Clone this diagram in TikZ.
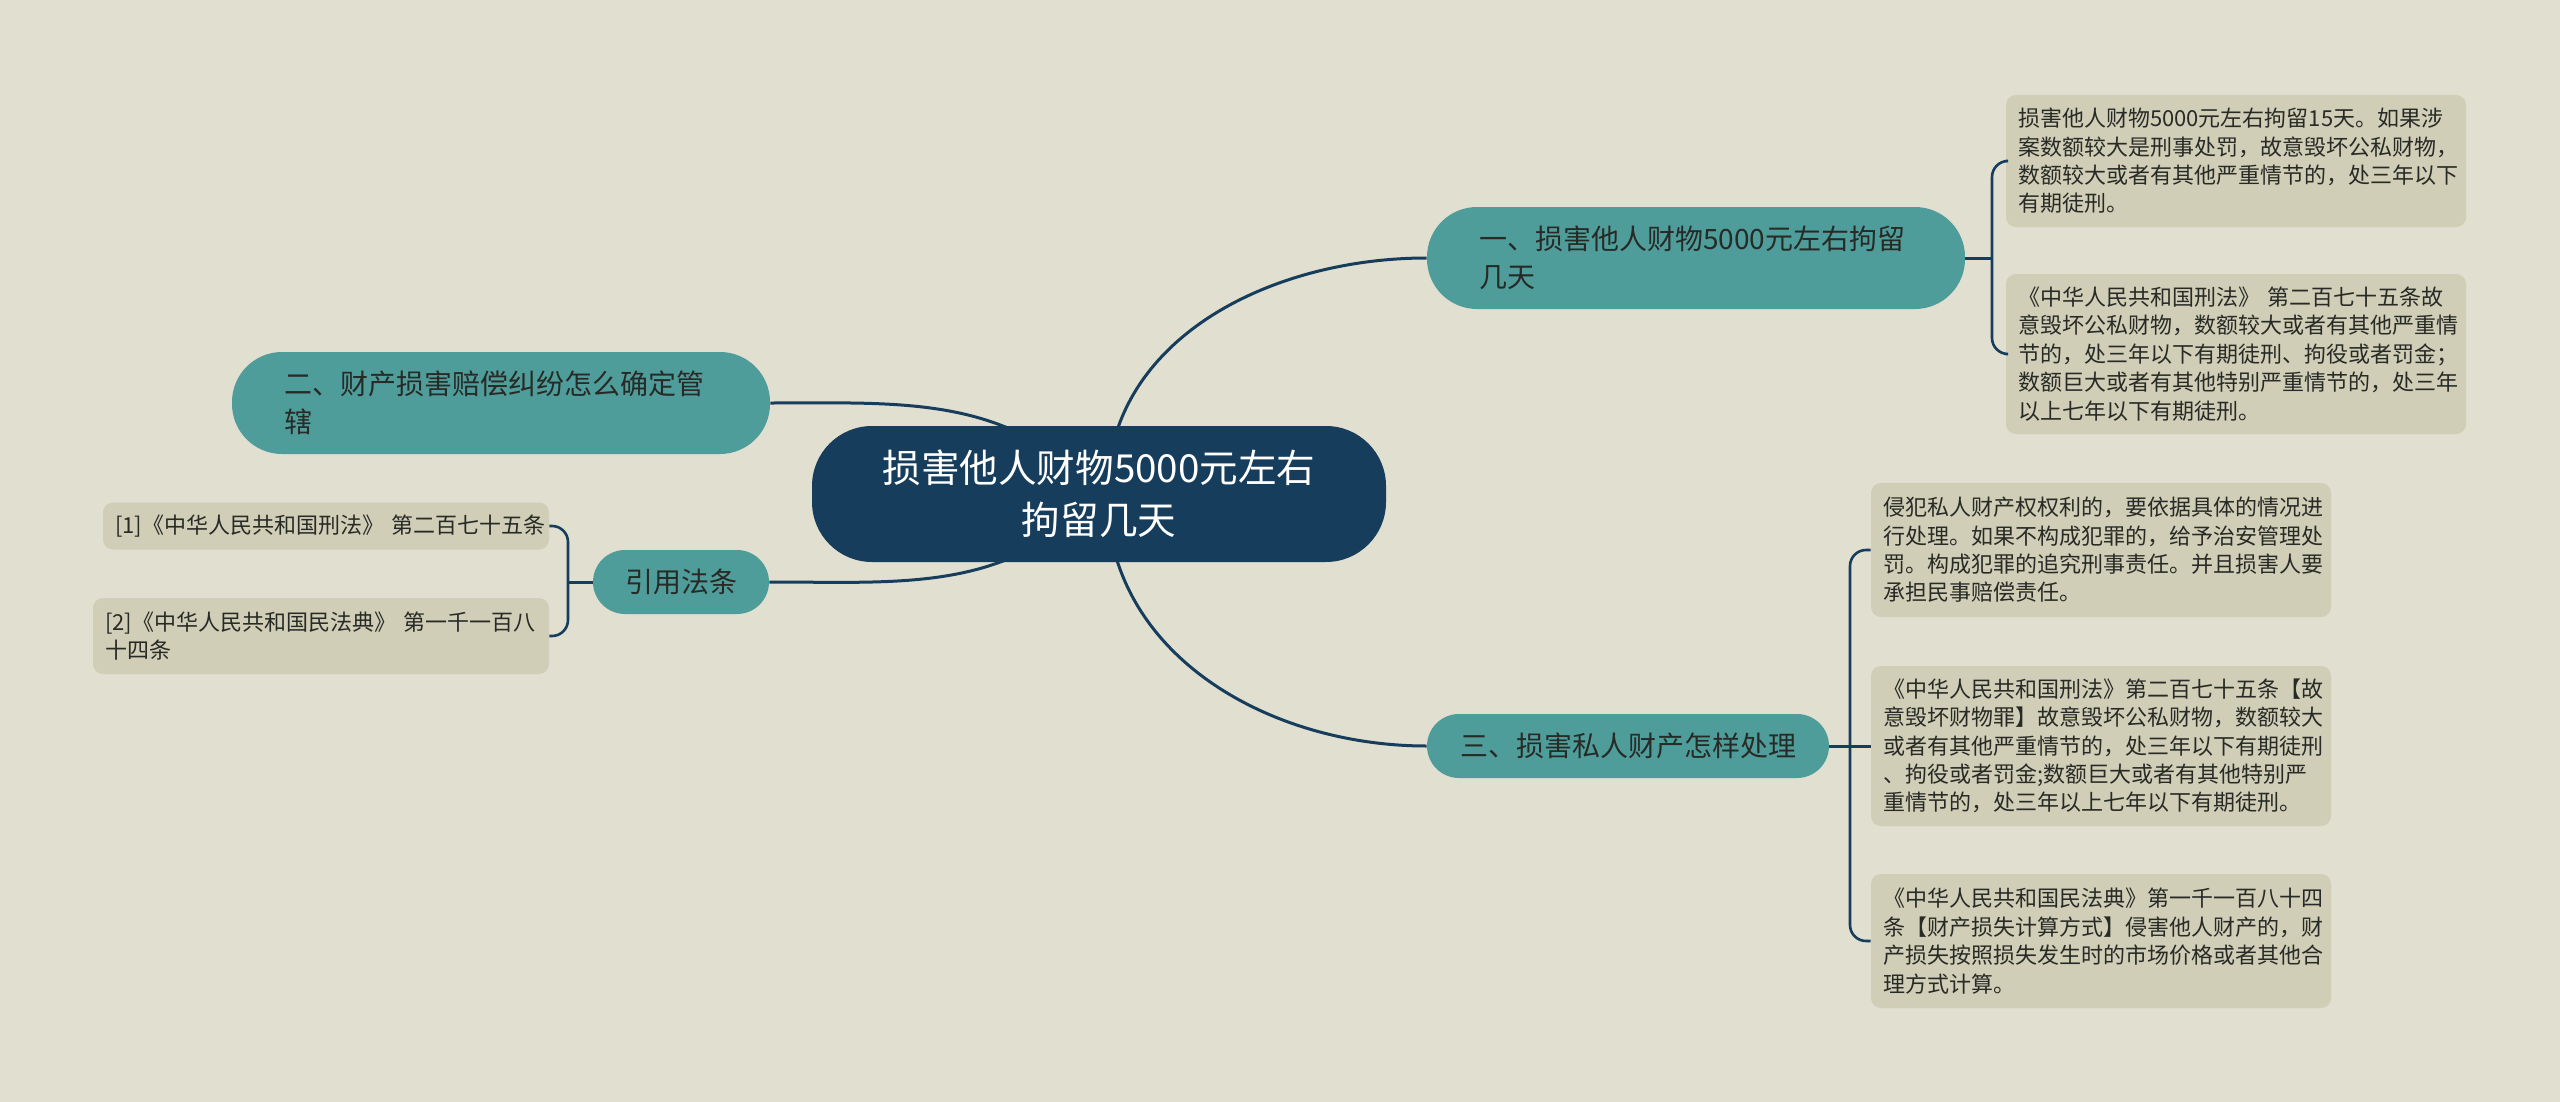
\documentclass[tikz,border=0pt]{standalone}
\usepackage{fontspec}
\setmainfont{Noto Sans CJK SC}
\usepackage{xcolor}
\usetikzlibrary{positioning, backgrounds}
\definecolor{paper}{RGB}{224,223,208}
\definecolor{rootcolor}{RGB}{23,61,92}
\definecolor{topiccolor}{RGB}{79,157,155}
\definecolor{leafcolor}{RGB}{208,206,183}
\definecolor{inkcolor}{RGB}{40,42,38}
\tikzset{mapnode/.style = {inner ysep=0pt, text=inkcolor}}
\tikzset{rootnode/.style = {mapnode, fill=rootcolor, text=white, rounded corners=30pt, minimum width=287pt, minimum height=68pt, align=center, font=\fontsize{19.3}{26}\selectfont}}
\tikzset{topicnode/.style = {mapnode, fill=topiccolor, rounded corners=16pt, minimum height=32pt, align=center, font=\fontsize{14}{18.8}\selectfont}}
\tikzset{widetopic/.style = {topicnode, rounded corners=25pt, minimum height=51pt, text width=217pt, inner xsep=26pt, align=left}}
\tikzset{leafbox/.style = {mapnode, fill=leafcolor, rounded corners=5pt, inner xsep=6pt, text width=218pt, align=left, font=\fontsize{11}{14.2}\selectfont}}
\tikzset{connector/.style = {draw=rootcolor, line width=1.5pt}}
\tikzset{bracketline/.style = {connector, line width=1.3pt, rounded corners=8pt}}

\begin{document}
\begin{tikzpicture}[x=0.5pt, y=-0.5pt]
\useasboundingbox (0,0) rectangle (2560,1102);

\node [rootnode] (root) at (1099,494) {损害他人财物5000元左右\\拘留几天};

\node [widetopic] (topic1) at (1696,258) {一、损害他人财物5000元左右拘留\\几天};
\node [widetopic] (topic2) at (501,403) {二、财产损害赔偿纠纷怎么确定管\\辖};
\node [topicnode, minimum width=201pt] (topic3) at (1628,746) {三、损害私人财产怎样处理};
\node [topicnode, minimum width=88pt] (topic4) at (681,582) {引用法条};

\node [leafbox, minimum height=66pt] (leaf1a) at (2236,161) {损害他人财物5000元左右拘留15天。如果涉\\案数额较大是刑事处罚，故意毁坏公私财物，\\数额较大或者有其他严重情节的，处三年以下\\有期徒刑。};
\node [leafbox, minimum height=80pt] (leaf1b) at (2236,354) {《中华人民共和国刑法》~第二百七十五条故\\意毁坏公私财物，数额较大或者有其他严重情\\节的，处三年以下有期徒刑、拘役或者罚金；\\数额巨大或者有其他特别严重情节的，处三年\\以上七年以下有期徒刑。};

\node [leafbox, minimum height=67pt] (leaf3a) at (2101,550) {侵犯私人财产权权利的，要依据具体的情况进\\行处理。如果不构成犯罪的，给予治安管理处\\罚。构成犯罪的追究刑事责任。并且损害人要\\承担民事赔偿责任。};
\node [leafbox, minimum height=80pt] (leaf3b) at (2101,746) {《中华人民共和国刑法》第二百七十五条【故\\意毁坏财物罪】故意毁坏公私财物，数额较大\\或者有其他严重情节的，处三年以下有期徒刑\\、拘役或者罚金;数额巨大或者有其他特别严\\重情节的，处三年以上七年以下有期徒刑。};
\node [leafbox, minimum height=67pt] (leaf3c) at (2101,941) {《中华人民共和国民法典》第一千一百八十四\\条【财产损失计算方式】侵害他人财产的，财\\产损失按照损失发生时的市场价格或者其他合\\理方式计算。};

\node [leafbox, text width=211pt, minimum height=23.5pt] (leaf4a) at (326,526) {[1]《中华人民共和国刑法》~第二百七十五条};
\node [leafbox, text width=216pt, minimum height=38pt] (leaf4b) at (321,636) {[2]《中华人民共和国民法典》~第一千一百八\\十四条};

\coordinate (fork1) at (1992,258);
\coordinate (fork3) at (1850,746);
\coordinate (fork4) at (568,582);

\begin{pgfonlayer}{background}
\fill [paper] (0,0) rectangle (2560,1102);
\draw [connector] ([xshift=4pt]root.center) to[out=90,in=180] (topic1.west);
\draw [connector] ([xshift=4pt]root.center) to[out=-90,in=180] (topic3.west);
\draw [connector] (root.center) to[out=132,in=0] (topic2.east);
\draw [connector] (root.center) to[out=228,in=0] (topic4.east);
\end{pgfonlayer}

\draw [connector] (topic1.east) -- (fork1);
\draw [bracketline] (leaf1a.west) -| (fork1) |- (leaf1b.west);
\draw [connector] (topic3.east) -- (leaf3b.west);
\draw [bracketline] (leaf3a.west) -| (fork3) |- (leaf3c.west);
\draw [connector] (topic4.west) -- (fork4);
\draw [bracketline] (leaf4a.east) -| (fork4) |- (leaf4b.east);
\end{tikzpicture}
\end{document}
